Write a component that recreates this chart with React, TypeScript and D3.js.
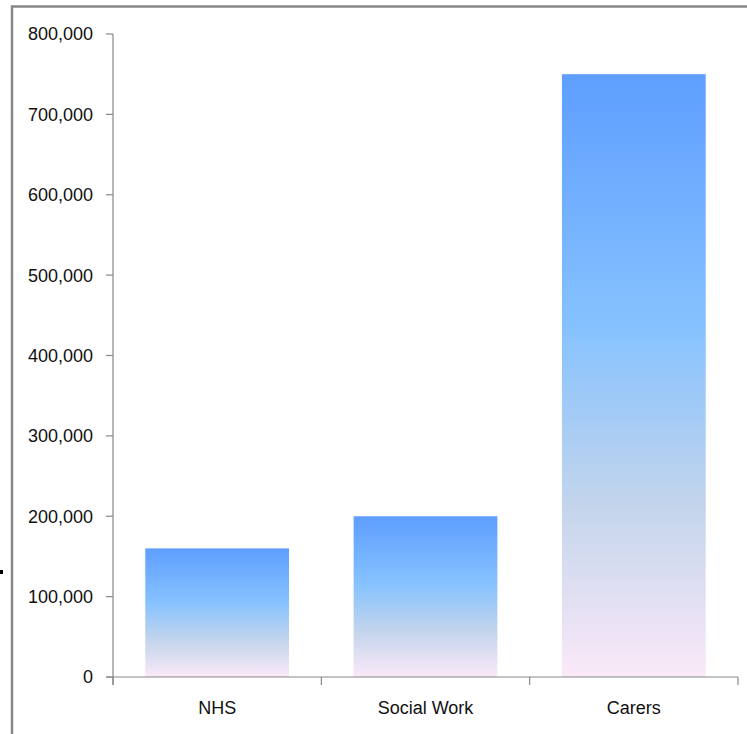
import React from "react";
import * as d3 from "d3";

const categories = ["NHS", "Social Work", "Carers"];
const values = [160000, 200000, 750000];
const yTicks = [0, 100000, 200000, 300000, 400000, 500000, 600000, 700000, 800000];

const W = 747;
const H = 734;
const plot = { left: 113, right: 738, top: 34, bottom: 677 };
const font = "'Liberation Sans', Arial, sans-serif";

export default function App() {
  const x = d3
    .scaleBand<string>()
    .domain(categories)
    .range([plot.left, plot.right])
    .paddingInner(0.31)
    .paddingOuter(0.155);
  const y = d3.scaleLinear().domain([0, 800000]).range([plot.bottom, plot.top]);
  const fmt = d3.format(",");
  const step = x.step();
  const bandEdges = categories.map((c) => (x(c) as number) - (step * x.paddingInner()) / 2);
  bandEdges.push(plot.right);

  return (
    <svg
      width={W}
      height={H}
      style={{ position: "absolute", left: 0, top: 0, background: "#fff" }}
    >
      <defs>
        <linearGradient id="barGrad" x1="0" y1="0" x2="0" y2="1">
          <stop offset="0" stopColor="#5E9EFF" />
          <stop offset="0.42" stopColor="#86C2FF" />
          <stop offset="0.72" stopColor="#C4D5EC" />
          <stop offset="1" stopColor="#FBE9F8" />
        </linearGradient>
      </defs>
      {/* chart frame */}
      <rect x={12} y={6.5} width={W + 20} height={H + 20} fill="#fff" stroke="#888" strokeWidth={2.5} />
      <rect x={0} y={570} width={3} height={4} fill="#000" />

      {/* bars */}
      {categories.map((c, i) => (
        <rect
          key={c}
          x={x(c)}
          y={y(values[i])}
          width={x.bandwidth()}
          height={plot.bottom - y(values[i])}
          fill="url(#barGrad)"
        />
      ))}

      {/* y axis */}
      <line x1={plot.left} x2={plot.left} y1={plot.top} y2={plot.bottom + 8} stroke="#888" strokeWidth={1.2} />
      {yTicks.map((t) => (
        <g key={t}>
          <line x1={plot.left - 7} x2={plot.left} y1={y(t)} y2={y(t)} stroke="#888" strokeWidth={1.2} />
          <text
            x={93}
            y={y(t)}
            dy="0.36em"
            textAnchor="end"
            fontFamily={font}
            fontSize={18}
            fill="#111"
          >
            {fmt(t)}
          </text>
        </g>
      ))}

      {/* x axis */}
      <line x1={plot.left - 7} x2={plot.right} y1={plot.bottom} y2={plot.bottom} stroke="#888" strokeWidth={1.2} />
      {bandEdges.map((e, i) => (
        <line key={i} x1={e} x2={e} y1={plot.bottom} y2={plot.bottom + 8} stroke="#888" strokeWidth={1.2} />
      ))}
      {categories.map((c) => (
        <text
          key={c}
          x={(x(c) as number) + x.bandwidth() / 2}
          y={714}
          textAnchor="middle"
          fontFamily={font}
          fontSize={18}
          fill="#111"
        >
          {c}
        </text>
      ))}
    </svg>
  );
}
